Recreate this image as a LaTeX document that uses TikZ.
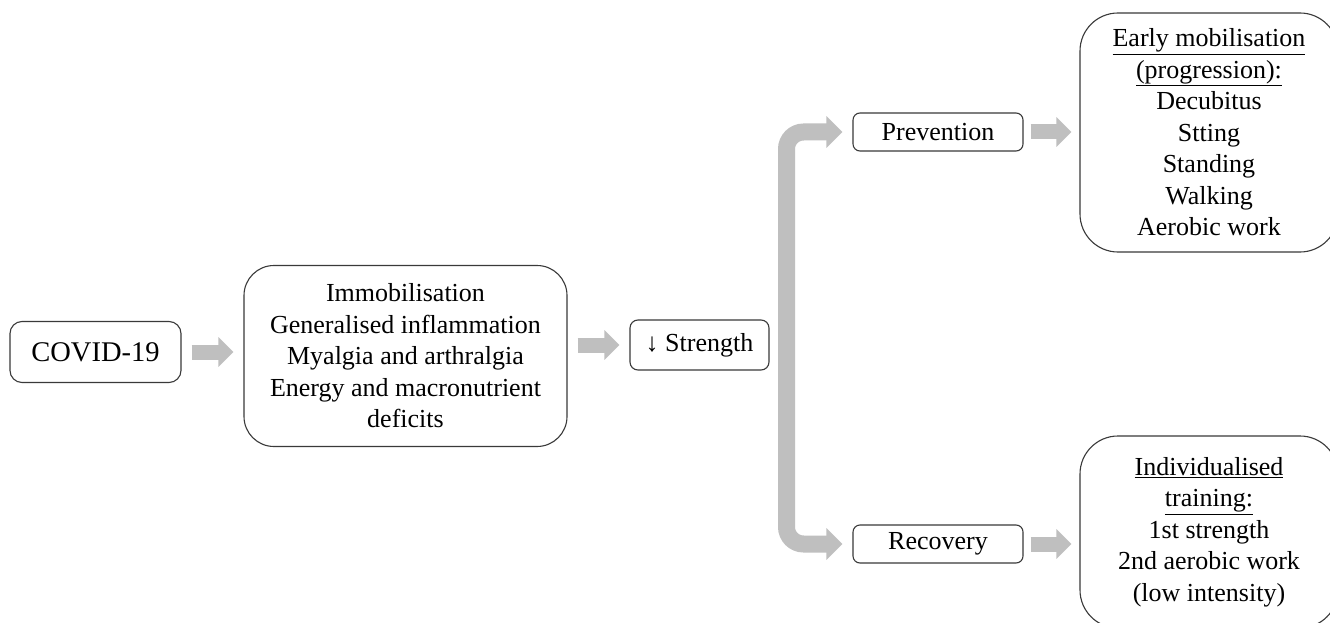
\documentclass[tikz,border=0pt]{standalone}
\usepackage{fontspec}
\setmainfont{Liberation Serif}
\usetikzlibrary{arrows.meta,calc}
\definecolor{fatgray}{HTML}{BFBFBF}
\definecolor{edge}{HTML}{3A3A3A}
\tikzset{
  box/.style={draw=edge, line width=1.1pt, fill=white, align=center, inner sep=0pt,
              font=\fontsize{26}{31.5}\selectfont},
  fat/.style={draw=fatgray, line width=15pt,
              -{Triangle[length=15pt,width=29pt]}},
  fatb/.style={draw=fatgray, line width=17pt, rounded corners=17pt,
              {Triangle[length=16pt,width=31pt]}-{Triangle[length=16pt,width=31pt]}}
}
\begin{document}
\begin{tikzpicture}[x=1pt,y=-1pt]
\useasboundingbox (0,0) rectangle (1330,623);
\clip (0,0) rectangle (1330,623);
\fill[white] (0,0) rectangle (1330,623);

\node[box, rounded corners=12pt, minimum width=171pt, minimum height=61pt,
      font=\fontsize{28.5}{32}\selectfont] (covid) at (95.5,352) {COVID-19};
\node[box, rounded corners=30pt, minimum width=323pt, minimum height=181pt] (mid) at (405.5,356)
  {Immobilisation\\Generalised inflammation\\Myalgia and arthralgia\\Energy and macronutrient\\deficits};
\node[box, rounded corners=8pt, minimum width=139pt, minimum height=50pt] (str) at (699.5,345) {↓ Strength};
\node[box, rounded corners=7pt, minimum width=170pt, minimum height=38pt] (prev) at (938,132) {Prevention};
\node[box, rounded corners=7pt, minimum width=170pt, minimum height=38pt] (rec) at (938,544) {Recovery};
\node[box, rounded corners=38pt, minimum width=258pt, minimum height=239pt] (early) at (1209,132.5)
  {\underline{Early mobilisation}\\\underline{(progression):}\\Decubitus\\Stting\\Standing\\Walking\\Aerobic work};
\node[box, rounded corners=38pt, minimum width=258pt, minimum height=192pt] (indiv) at (1209,532)
  {\underline{Individualised}\\\underline{training:}\\1st strength\\2nd aerobic work\\(low intensity)};

\coordinate (bar) at (786.5,340);

\draw[fat] ($(covid.east)+(10,0)$) -- ($(mid.west |- covid.east)+(-10,0)$);
\draw[fat] ($(mid.east |- str.west)+(10,0)$) -- ($(str.west)+(-10,0)$);
\draw[fatb] ($(prev.west)+(-10,0)$) -| (bar) |- ($(rec.west)+(-10,0)$);
\draw[fat] ($(prev.east)+(7,0)$) -- ($(early.west |- prev.east)+(-8,0)$);
\draw[fat] ($(rec.east)+(7,0)$) -- ($(indiv.west |- rec.east)+(-8,0)$);
\end{tikzpicture}
\end{document}
